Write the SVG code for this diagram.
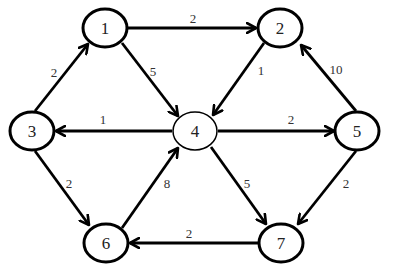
<svg xmlns="http://www.w3.org/2000/svg" width="394" height="271" viewBox="0 0 394 271">
<style>
.node ellipse{fill:#fff;stroke:#000;stroke-width:3}
.node.thin ellipse{stroke-width:1.5}
.node text{font-family:"Liberation Serif",serif;font-size:17px;text-anchor:middle;fill:#222}
.edge{stroke:#000;stroke-width:2.8;fill:none;marker-end:url(#arr)}
.lbl{font-family:"Liberation Serif",serif;font-size:13px;text-anchor:middle;fill:#333}
</style>
<defs>
<marker id="arr" markerUnits="userSpaceOnUse" viewBox="0 0 12 12" refX="10" refY="6" markerWidth="12" markerHeight="12" orient="auto">
<path d="M1,1 L10,6 L1,11" fill="none" stroke="#000" stroke-width="2.6" stroke-linecap="round" stroke-linejoin="round"/>
</marker>
</defs>
<rect width="394" height="271" fill="#fff"/>
<g id="connectors">
<line class="edge" x1="128" y1="28" x2="256" y2="28"/>
<line class="edge" x1="122" y1="43" x2="178" y2="116"/>
<line class="edge" x1="35" y1="111" x2="88" y2="44"/>
<line class="edge" x1="264" y1="43" x2="213" y2="115"/>
<line class="edge" x1="356" y1="111" x2="301" y2="45"/>
<line class="edge" x1="172" y1="131" x2="56" y2="131"/>
<line class="edge" x1="218" y1="131" x2="334" y2="131"/>
<line class="edge" x1="35" y1="151" x2="89" y2="225"/>
<line class="edge" x1="122" y1="228" x2="178" y2="148"/>
<line class="edge" x1="211" y1="147" x2="266" y2="224"/>
<line class="edge" x1="356" y1="151" x2="298" y2="224"/>
<line class="edge" x1="259" y1="243" x2="130" y2="243"/>
<text class="lbl" x="193" y="23">2</text>
<text class="lbl" x="153" y="76">5</text>
<text class="lbl" x="54" y="77">2</text>
<text class="lbl" x="261" y="75">1</text>
<text class="lbl" x="336" y="74">10</text>
<text class="lbl" x="103" y="124">1</text>
<text class="lbl" x="291" y="124">2</text>
<text class="lbl" x="69" y="188">2</text>
<text class="lbl" x="167" y="188">8</text>
<text class="lbl" x="247" y="188">5</text>
<text class="lbl" x="346" y="188">2</text>
<text class="lbl" x="189" y="238">2</text>
</g>
<g id="node1" class="node"><ellipse cx="105" cy="28" rx="22" ry="19"/><text x="105" y="34">1</text></g>
<g id="node2" class="node"><ellipse cx="280" cy="28" rx="22" ry="19"/><text x="280" y="34">2</text></g>
<g id="node3" class="node"><ellipse cx="32" cy="131" rx="22" ry="19"/><text x="32" y="137">3</text></g>
<g id="node4" class="node thin"><ellipse cx="195" cy="131" rx="22" ry="19"/><text x="195" y="137">4</text></g>
<g id="node5" class="node"><ellipse cx="357" cy="131" rx="22" ry="19"/><text x="357" y="137">5</text></g>
<g id="node6" class="node"><ellipse cx="106" cy="243" rx="22" ry="19"/><text x="106" y="249">6</text></g>
<g id="node7" class="node"><ellipse cx="281" cy="243" rx="22" ry="19"/><text x="281" y="249">7</text></g>
</svg>
